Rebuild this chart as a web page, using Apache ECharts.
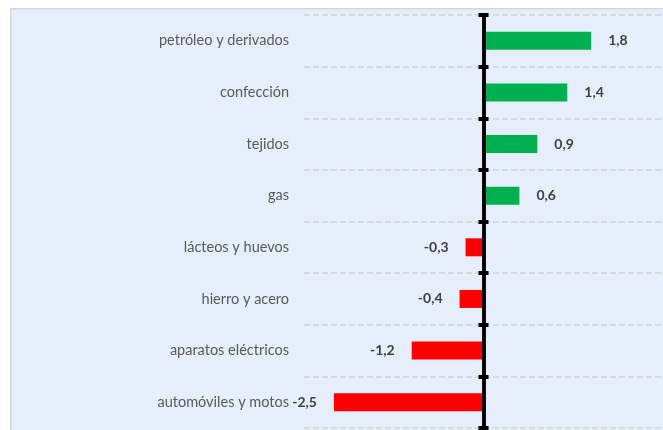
<!DOCTYPE html>
<html>
<head>
<meta charset="utf-8">
<script src="https://cdn.jsdelivr.net/npm/echarts@6/dist/echarts.min.js"></script>
<style>
  html, body { margin: 0; padding: 0; background: #fff; }
  #chart { width: 663px; height: 430px; }
</style>
</head>
<body>
<div id="chart"></div>
<script>
// categorías y variación (puntos)
const categorias = [
  'petróleo y derivados',
  'confección',
  'tejidos',
  'gas',
  'lácteos y huevos',
  'hierro y acero',
  'aparatos eléctricos',
  'automóviles y motos'
]
const valores = [1.8, 1.4, 0.9, 0.6, -0.3, -0.4, -1.2, -2.5]
const ejeMin = -3
const ejeMax = 3

const verde = '#00B050'
const rojo = '#FF0000'

const chart = echarts.init(document.getElementById('chart'))

const datos = valores.map(v => ({
  value: v,
  itemStyle: { color: v >= 0 ? verde : rojo },
  label: { position: v >= 0 ? 'right' : 'left' }
}))

const option = {
  backgroundColor: '#ffffff',
  animation: false,
  graphic: [{
    type: 'rect',
    left: 10,
    top: 8,
    shape: { width: 670, height: 440 },
    style: { fill: '#E6EEFC', stroke: '#D6D6D6', lineWidth: 1.5 },
    z: -10
  }],
  grid: { left: 304, right: -3, top: 15, bottom: 2 },
  xAxis: [
    { type: 'value', min: ejeMin, max: ejeMax, show: false },
    { type: 'value', min: ejeMin, max: ejeMax, show: false }
  ],
  yAxis: [
    {
      // eje en cero con la línea negra y marcas hacia fuera
      type: 'category',
      data: categorias,
      inverse: true,
      position: 'left',
      axisLine: { show: true, onZero: true, onZeroAxisIndex: 0, lineStyle: { color: '#000', width: 3.5 } },
      axisTick: { show: true, length: 5, lineStyle: { color: '#000', width: 4 } },
      axisLabel: { show: false },
      splitLine: { show: true, lineStyle: { color: '#D9D9D9', width: 2, type: [6, 3] } },
      z: 5
    },
    {
      // marcas hacia dentro
      type: 'category',
      data: categorias,
      inverse: true,
      position: 'left',
      axisLine: { show: true, onZero: true, onZeroAxisIndex: 1, lineStyle: { color: '#000', width: 3.5 } },
      axisTick: { show: true, inside: true, length: 5, lineStyle: { color: '#000', width: 4 } },
      axisLabel: { show: false },
      splitLine: { show: false },
      z: 5
    },
    {
      // etiquetas a la izquierda del área
      type: 'category',
      data: categorias,
      inverse: true,
      position: 'left',
      axisLine: { show: false, onZero: false },
      axisTick: { show: false },
      axisLabel: { margin: 15, color: '#595959', fontSize: 14.5, fontFamily: 'Lato' },
      splitLine: { show: false }
    }
  ],
  series: [{
    type: 'bar',
    xAxisIndex: 0,
    yAxisIndex: 0,
    barWidth: 18,
    data: datos,
    label: {
      show: true,
      distance: 17,
      color: '#404040',
      fontWeight: 'bold',
      fontSize: 14,
      fontFamily: 'Lato',
      formatter: p => String(p.value).replace('.', ',')
    },
    z: 2
  }]
}

chart.setOption(option)
</script>
</body>
</html>
